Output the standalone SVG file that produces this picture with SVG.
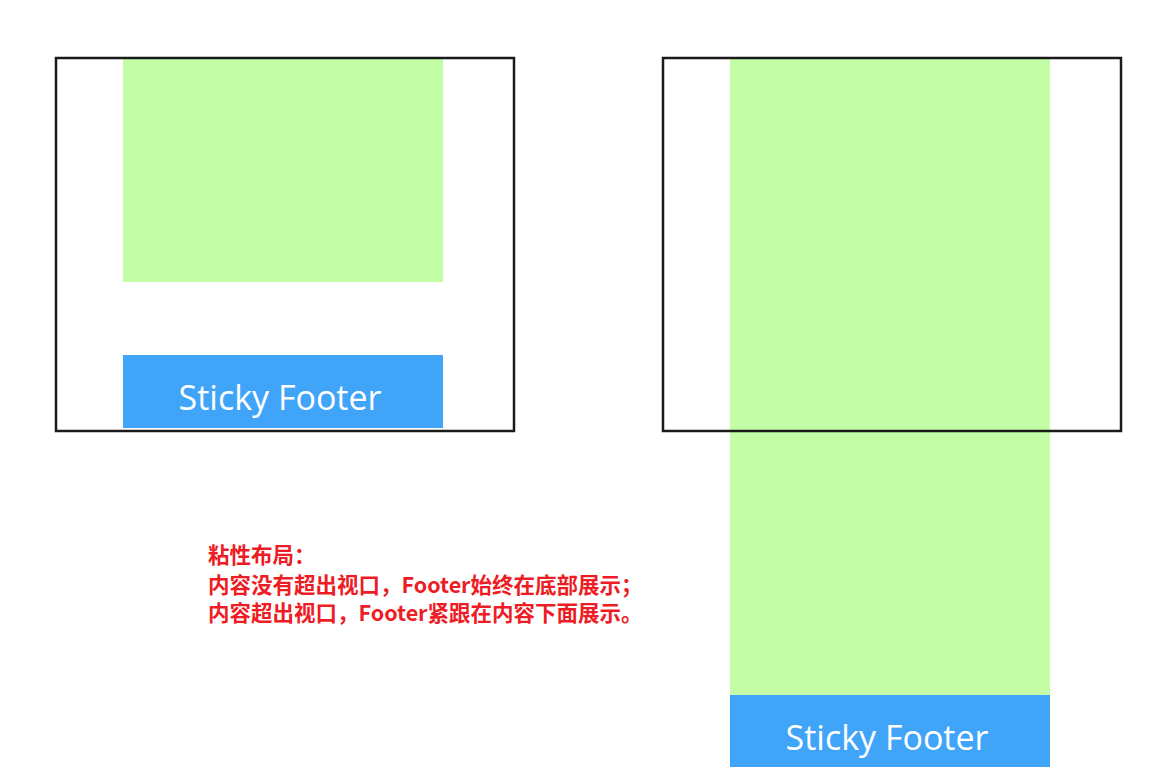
<svg xmlns="http://www.w3.org/2000/svg" width="1161" height="772" viewBox="0 0 1161 772">
<style>
.content{fill:#c3fea6}
.footer{fill:#40a4f9}
.viewport{fill:none;stroke:#1a1a1a;stroke-width:2.5}
.ft{font-family:"Open Sans","Liberation Sans",sans-serif;font-size:34px;fill:#ffffff;text-anchor:middle}
.note{font-family:"Noto Sans CJK SC","Liberation Sans",sans-serif;font-size:21.5px;font-weight:bold;fill:#ee1c25}
</style>
<rect width="1161" height="772" fill="#ffffff"/>
<g id="left">
<rect class="content" x="123" y="58" width="320" height="224"/>
<rect class="footer" x="123" y="355" width="320" height="73"/>
<text class="ft" x="280" y="410">Sticky Footer</text>
<rect class="viewport" x="56" y="58" width="458" height="373"/>
</g>
<g id="right">
<rect class="content" x="730" y="58" width="320" height="637"/>
<rect class="footer" x="730" y="695" width="320" height="72"/>
<text class="ft" x="887" y="750">Sticky Footer</text>
<rect class="viewport" x="663" y="58" width="458" height="373"/>
</g>
<g id="note">
<text class="note" x="208" y="563">粘性布局：</text>
<text class="note" x="208" y="593">内容没有超出视口，Footer始终在底部展示；</text>
<text class="note" x="208" y="621">内容超出视口，Footer紧跟在内容下面展示。</text>
</g>
</svg>
